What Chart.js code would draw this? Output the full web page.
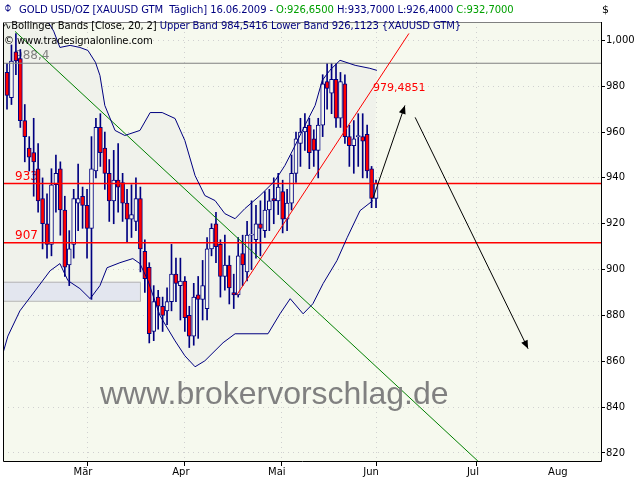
<!DOCTYPE html>
<html><head><meta charset="utf-8">
<script src="https://cdn.jsdelivr.net/npm/chart.js@4.4.1/dist/chart.umd.min.js"></script>
<style>
body{margin:0;background:#fff;}
#w{position:relative;width:640px;height:480px;font-family:"DejaVu Sans",sans-serif;}
canvas{position:absolute;left:0;top:0;}
.t{position:absolute;font-size:10px;white-space:pre;letter-spacing:-0.1px;}
</style></head><body>
<div id="w"><canvas id="c" width="640" height="480"></canvas>
<div class="t" style="left:19px;top:4px;color:#000080;font-size:10px">GOLD USD/OZ [XAUUSD GTM  Täglich] 16.06.2009 - <span style="color:#00a000">O:926,6500</span> H:933,7000 L:926,4000 <span style="color:#00a000">C:932,7000</span></div>
<div class="t" style="left:4px;top:0px;color:#000080;font-size:13px">&#x233D;</div>
<div class="t" style="left:3px;top:20px;color:#000">∿Bollinger Bands [Close, 20, 2] <span style="color:#000080">Upper Band 984,5416 Lower Band 926,1123 {XAUUSD GTM}</span></div>
<div class="t" style="left:4px;top:35px;color:#000">© www.tradesignalonline.com</div>
<div class="t" style="left:602px;top:3px;color:#000;font-size:11px">$</div>
<div class="t" style="left:100px;top:375px;color:#808080;font-family:'Liberation Sans';font-size:32px;letter-spacing:0">www.brokervorschlag.de</div>
</div>
<script>
// candles: index, open, high, low, close
const candleOpen  = [986,975,995,992,965,953,951,944,931,920,911,937,944,926,902,911,929,932,928,918,943,962,953,942,930,939,938,929,922,921,931,908,901,873,888,884,882,886,898,893,895,880,871,889,887,883,909,920,911,897,902,890,889,907,899,915,913,920,917,926,931,930,934,922,929,942,955,960,963,957,952,963,982,977,983,966,981,958,954,958,958,959,944,931];
const candleHigh  = [990,998,1003,996,972,958,966,955,940,933,944,950,947,932,917,935,946,936,935,958,966,968,960,948,952,955,942,935,937,940,936,913,903,893,891,888,892,911,905,905,897,884,894,897,904,914,920,925,913,915,906,898,914,915,921,930,928,930,934,935,940,942,939,935,950,960,966,968,966,961,966,985,990,990,990,986,985,963,965,968,968,963,945,939];
const candleLow   = [970,972,985,962,947,943,932,925,909,905,906,925,915,897,893,905,917,918,905,887,940,945,935,921,920,925,921,912,914,917,899,890,868,869,874,873,876,882,886,878,873,866,867,870,878,878,906,903,888,891,885,883,888,893,895,900,905,906,914,917,920,924,916,917,926,938,945,952,944,945,940,958,970,968,962,962,955,945,942,945,940,940,927,927];
const candleClose = [976,991,991,965,958,949,947,930,920,911,937,942,926,901,909,931,931,928,918,944,962,951,942,930,939,936,929,922,924,931,909,896,872,886,884,880,886,898,894,895,879,871,888,887,893,909,918,910,897,902,892,889,906,902,915,915.5,920,918,926,930,930,936,922,929,942,957,960,962,951,952,963,981,979,983,966,982,958,954,957,958,956,943,931,937.5];
const upperX = [-0.9,8,10.5,11.9,14.2,16.4,18.2,19.9,20.9,22.0,24.3,26.5,29.9,32.2,34.9,37.8,40.0,42.3,44.5,46.8,49.0,51.3,53.5,56.9,60.3,62.5,64.8,67.0,69.3,70.9,72.6,74.9,78.3,81.6,83.2];
const upperY = [1014,1012,1004,996.9,997.8,996.9,995.6,990.4,984.7,971.6,960.7,958.5,960.7,968.5,968.5,965.9,956.3,941.0,932.3,930.1,924.4,922.2,926.6,932.3,938.8,945.4,954.1,962.9,971.6,982.5,986.9,991.3,989.1,987.8,986.9];
const lowerX = [-0.9,0.2,2.9,6.3,9.7,11.9,13.7,16.4,18.7,20.9,22.5,25.4,28.3,29.9,31.7,34.4,37.8,40.0,42.3,44.5,48.6,51.3,58.7,61.4,63.7,66.6,68.8,71.1,74.2,76.5,79.4,82.3];
const lowerY = [863.6,871.0,882.0,890.7,899.5,902.6,895.2,891.7,887.3,893.0,900.8,903.0,904.8,902.6,895.2,879.9,868.9,862.4,857.6,860.2,868.1,872.0,872.0,880.7,887.3,880.7,885.1,893.9,903.9,913.9,925.7,930.1];
const greenLine = [[1.8,1003.9],[105.9,816.5]];
const redTrend = [[51.7,889],[90.4,1003]];
const arrowUp = [[82.3,931],[89.5,971.6]];
const arrowDown = [[91.8,966.4],[117.2,865.5]];
const hLines = [{v:990,label:'988,4',color:'#808080'},{v:937.5,label:'933',color:'#ff0000'},{v:911.7,label:'907',color:'#ff0000'}];
const grayBox = {x0:-0.9,x1:29.9,y0:886.4,y1:894.7};
const monthStarts = [7.2,28.8,51.1,72.2,94.0,117.0];
const monthMids = [17.1,39.1,60.7,81.9,104.8,123.9];
const monthLabels = ['Mär','Apr','Mai','Jun','Jul','Aug'];
const trendLabel = {x:83,y:979,text:'979,4851'};

const idx = candleOpen.map((_,i)=>i);
const navy = '#000080';
const pts = a=>a.map(p=>({x:p[0],y:p[1]}));
const xMin=-0.9,xMax=133.6;

const bg = {
  id:'bg',
  beforeDraw(ch){
    const {ctx,chartArea:a}=ch;
    ctx.save();
    ctx.fillStyle='#f6f9ee';ctx.fillRect(a.left,a.top,a.right-a.left,a.bottom-a.top);
    ctx.restore();
  },
  beforeDatasetsDraw(ch){
    const {ctx,chartArea:a,scales:{x,y}}=ch;
    ctx.save();
    ctx.beginPath();ctx.rect(a.left,a.top,a.right-a.left,a.bottom-a.top);ctx.clip();
    ctx.beginPath();
    upperX.forEach((v,i)=>{const px=x.getPixelForValue(v),py=y.getPixelForValue(upperY[i]); i?ctx.lineTo(px,py):ctx.moveTo(px,py);});
    for(let i=lowerX.length-1;i>=0;i--) ctx.lineTo(x.getPixelForValue(lowerX[i]),y.getPixelForValue(lowerY[i]));
    ctx.closePath();ctx.fillStyle='#f0f2eb';ctx.fill();
    const bx0=x.getPixelForValue(grayBox.x0),bx1=x.getPixelForValue(grayBox.x1),by0=y.getPixelForValue(grayBox.y1),by1=y.getPixelForValue(grayBox.y0);
    ctx.fillStyle='#e3e6ef';ctx.fillRect(bx0,by0,bx1-bx0,by1-by0);
    ctx.strokeStyle='#b4b4b4';ctx.lineWidth=1;ctx.strokeRect(bx0+0.5,by0+0.5,bx1-bx0,by1-by0);
    ctx.font='12px "DejaVu Sans"';ctx.textBaseline='bottom';
    hLines.forEach(h=>{ctx.fillStyle=h.color;ctx.fillText(h.label,a.left+12,y.getPixelForValue(h.v)-1);});
    ctx.fillStyle='#ff0000';ctx.font='11px "DejaVu Sans"';
    ctx.fillText(trendLabel.text,x.getPixelForValue(trendLabel.x)-3,y.getPixelForValue(trendLabel.y)+5);
    ctx.restore();
  },
  afterDatasetsDraw(ch){
    const {ctx,chartArea:a,scales:{x,y}}=ch;
    ctx.save();
    [arrowUp,arrowDown].forEach(ar=>{
      const x1=x.getPixelForValue(ar[0][0]),y1=y.getPixelForValue(ar[0][1]),x2=x.getPixelForValue(ar[1][0]),y2=y.getPixelForValue(ar[1][1]);
      const ang=Math.atan2(y2-y1,x2-x1);
      ctx.beginPath();ctx.moveTo(x2,y2);ctx.lineTo(x2-9*Math.cos(ang-0.4),y2-9*Math.sin(ang-0.4));
      ctx.lineTo(x2-9*Math.cos(ang+0.4),y2-9*Math.sin(ang+0.4));ctx.closePath();ctx.fillStyle='#000';ctx.fill();
    });
    ctx.strokeStyle='#000';ctx.lineWidth=1;
    ctx.beginPath();ctx.moveTo(a.left+0.5,a.top);ctx.lineTo(a.left+0.5,a.bottom+0.5);ctx.lineTo(a.right+0.5,a.bottom+0.5);ctx.lineTo(a.right+0.5,a.top);ctx.stroke();
    ctx.strokeStyle='#808080';ctx.beginPath();ctx.moveTo(a.left,a.top+0.5);ctx.lineTo(a.right,a.top+0.5);ctx.stroke();
    ctx.restore();
  }
};

const lineDs=(data,color,w=1)=>({type:'line',data,borderColor:color,borderWidth:w,pointRadius:0,fill:false,tension:0,order:0});
const datasets=[
  {type:'bar',data:idx.map(i=>({x:i,y:[candleLow[i],candleHigh[i]]})),backgroundColor:navy,barThickness:1,grouped:false,order:2},
  {type:'bar',data:idx.map(i=>({x:i,y:[Math.min(candleOpen[i],candleClose[i]),Math.max(candleOpen[i],candleClose[i])+ (candleOpen[i]===candleClose[i]?0.4:0)]})),
   backgroundColor:idx.map(i=>candleClose[i]<candleOpen[i]?'#ff0000':'#f6f9ee'),borderColor:navy,borderWidth:1,borderSkipped:false,barThickness:4,grouped:false,order:1},
  lineDs(upperX.map((v,i)=>({x:v,y:upperY[i]})),navy),
  lineDs(lowerX.map((v,i)=>({x:v,y:lowerY[i]})),navy),
  lineDs(pts(greenLine),'#008000'),
  lineDs(pts(redTrend),'#ff0000'),
  lineDs(pts(arrowUp),'#000'),
  lineDs(pts(arrowDown),'#000'),
  ...hLines.map(h=>lineDs([{x:xMin,y:h.v},{x:xMax,y:h.v}],h.color,h.color==='#808080'?1.2:1.5))
];

new Chart(document.getElementById('c'),{
  type:'bar',
  data:{datasets},
  plugins:[bg],
  options:{
    responsive:false,animation:false,
    layout:{padding:{top:22,left:3,right:0,bottom:0}},
    plugins:{legend:{display:false},tooltip:{enabled:false}},
    scales:{
      x:{type:'linear',min:xMin,max:xMax,offset:false,
        afterBuildTicks(s){s.ticks=[...monthStarts,...monthMids].map(v=>({value:v}));},
        afterFit(s){s.height=19;},
        ticks:{autoSkip:false,maxRotation:0,color:'#000',font:{size:10,family:'DejaVu Sans'},padding:0,
          callback(v){const k=monthMids.indexOf(v);return k>=0?monthLabels[k]:'';}},
        grid:{drawOnChartArea:true,tickLength:5,
          color(c){return c.tick&&monthStarts.includes(c.tick.value)?'#d0d0d0':'rgba(0,0,0,0)';},
          tickColor(c){return c.tick&&monthStarts.includes(c.tick.value)?'#000':'rgba(0,0,0,0)';},
          lineWidth:1},
        border:{display:false,dash:[1,4]}
      },
      y:{position:'right',min:816.5,max:1008,
        afterBuildTicks(s){const t=[];for(let v=820;v<=1000;v+=20)t.push({value:v});s.ticks=t;},
        afterFit(s){s.width=39;},
        ticks:{color:'#000',font:{size:10,family:'DejaVu Sans'},padding:1},
        grid:{color:'#d0d0d0',tickLength:4,tickColor:'#000'},
        border:{display:false,dash:[1,4]}
      }
    }
  }
});
</script></body></html>
